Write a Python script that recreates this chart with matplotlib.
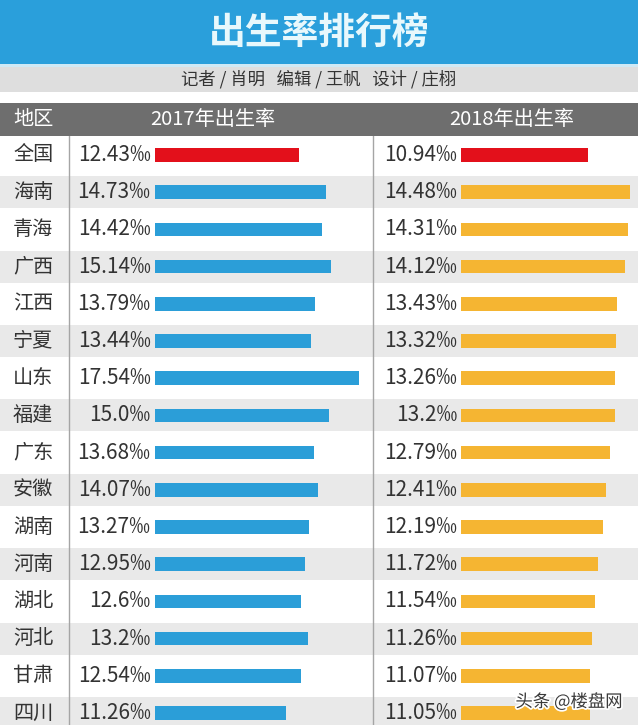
import matplotlib
matplotlib.use("Agg")
import matplotlib.pyplot as plt
import matplotlib.patheffects as pe
from matplotlib.patches import Rectangle

plt.rcParams['font.family'] = ['Noto Sans CJK SC', 'DejaVu Sans']

# data
regions = ["全国", "海南", "青海", "广西", "江西", "宁夏", "山东", "福建",
           "广东", "安徽", "湖南", "河南", "湖北", "河北", "甘肃", "四川"]
rate_2017 = [12.43, 14.73, 14.42, 15.14, 13.79, 13.44, 17.54, 15.0,
             13.68, 14.07, 13.27, 12.95, 12.6, 13.2, 12.54, 11.26]
rate_2018 = [10.94, 14.48, 14.31, 14.12, 13.43, 13.32, 13.26, 13.2,
             12.79, 12.41, 12.19, 11.72, 11.54, 11.26, 11.07, 11.05]
labels_2017 = ["12.43", "14.73", "14.42", "15.14", "13.79", "13.44", "17.54", "15.0",
               "13.68", "14.07", "13.27", "12.95", "12.6", "13.2", "12.54", "11.26"]
labels_2018 = ["10.94", "14.48", "14.31", "14.12", "13.43", "13.32", "13.26", "13.2",
               "12.79", "12.41", "12.19", "11.72", "11.54", "11.26", "11.07", "11.05"]

title = "出生率排行榜"
credits = "记者 / 肖明   编辑 / 王帆   设计 / 庄栩"
headers = ["地区", "2017年出生率", "2018年出生率"]

BLUE_BANNER = "#2a9fdb"
BLUE = "#2b9ed8"
YELLOW = "#f5b532"
RED = "#e3101b"
HEADER_GRAY = "#6e6e6e"
ROW_GRAY = "#e9e9e9"
TEXT = "#333333"

W, H = 638, 725
fig = plt.figure(figsize=(W / 100, H / 100), dpi=100)

# background / header drawn in pixel coords
bg = fig.add_axes([0, 0, 1, 1])
bg.set_xlim(0, W)
bg.set_ylim(H, 0)
bg.axis("off")
bg.add_patch(Rectangle((0, 0), W, 64, color=BLUE_BANNER, lw=0))
bg.add_patch(Rectangle((0, 64), W, 3, color="#cfe9f5", lw=0))
bg.add_patch(Rectangle((0, 67), W, 25, color="#dedede", lw=0))
bg.add_patch(Rectangle((0, 103), W, 33, color=HEADER_GRAY, lw=0))
bg.text(W / 2, 33, title, ha="center", va="center", fontsize=26.5,
        fontweight="bold", color="#e8f8fc")
bg.text(W / 2, 79, credits, ha="center", va="center", fontsize=12.5, color=TEXT)
bg.text(13, 119.5, headers[0], ha="left", va="center", fontsize=14.5, color="white")
bg.text(213, 119.5, headers[1], ha="center", va="center", fontsize=14.5, color="white")
bg.text(512, 119.5, headers[2], ha="center", va="center", fontsize=14.5, color="white")

# rows geometry (pixels)
n = len(regions)
row_h = 37.2
top = 155 - row_h / 2
bottom_px = top + row_h * n
ax_bottom = 1 - bottom_px / H
ax_height = (bottom_px - top) / H

# table axes: bands, region names, dividers
tab = fig.add_axes([0, ax_bottom, 1, ax_height])
tab.set_xlim(0, W)
tab.set_ylim(n - 0.5, -0.5)
tab.axis("off")
for i, name in enumerate(regions):
    if i % 2 == 1:
        tab.axhspan(i - 0.43, i + 0.43, color=ROW_GRAY, lw=0)
    tab.text(13, i, name, ha="left", va="center", fontsize=14.5, color=TEXT,
             fontweight="light")
tab.axvline(69, color="#a5a5a5", lw=1)
tab.axvline(373, color="#a5a5a5", lw=1)

# bar axes, same px-per-unit scale for both years
scale = 11.65
x17, x18 = 154.5, 461
ax17 = fig.add_axes([x17 / W, ax_bottom, (373 - x17) / W, ax_height])
ax18 = fig.add_axes([x18 / W, ax_bottom, (W - x18) / W, ax_height])
for ax, vals, labs, col, x0, x1 in [(ax17, rate_2017, labels_2017, BLUE, x17, 373),
                                    (ax18, rate_2018, labels_2018, YELLOW, x18, W)]:
    colors = [RED] + [col] * (n - 1)
    ax.barh(range(n), vals, height=0.37, color=colors, lw=0)
    ax.set_xlim(0, (x1 - x0) / scale)
    ax.set_ylim(n - 0.5, -0.5)
    ax.axis("off")
    for i, lab in enumerate(labs):
        ax.annotate(lab + "‰", (0, i), xytext=(-4, 0), textcoords="offset pixels",
                    ha="right", va="center", fontsize=15, color=TEXT,
                    fontweight="light", annotation_clip=False)

fig.text(0.976, 0.032, "头条 @楼盘网", ha="right", va="center", fontsize=12.5,
         color="#3a3a3a",
         path_effects=[pe.withStroke(linewidth=2.5, foreground="white")])

fig.savefig("out.png", dpi=100)
plt.close(fig)
